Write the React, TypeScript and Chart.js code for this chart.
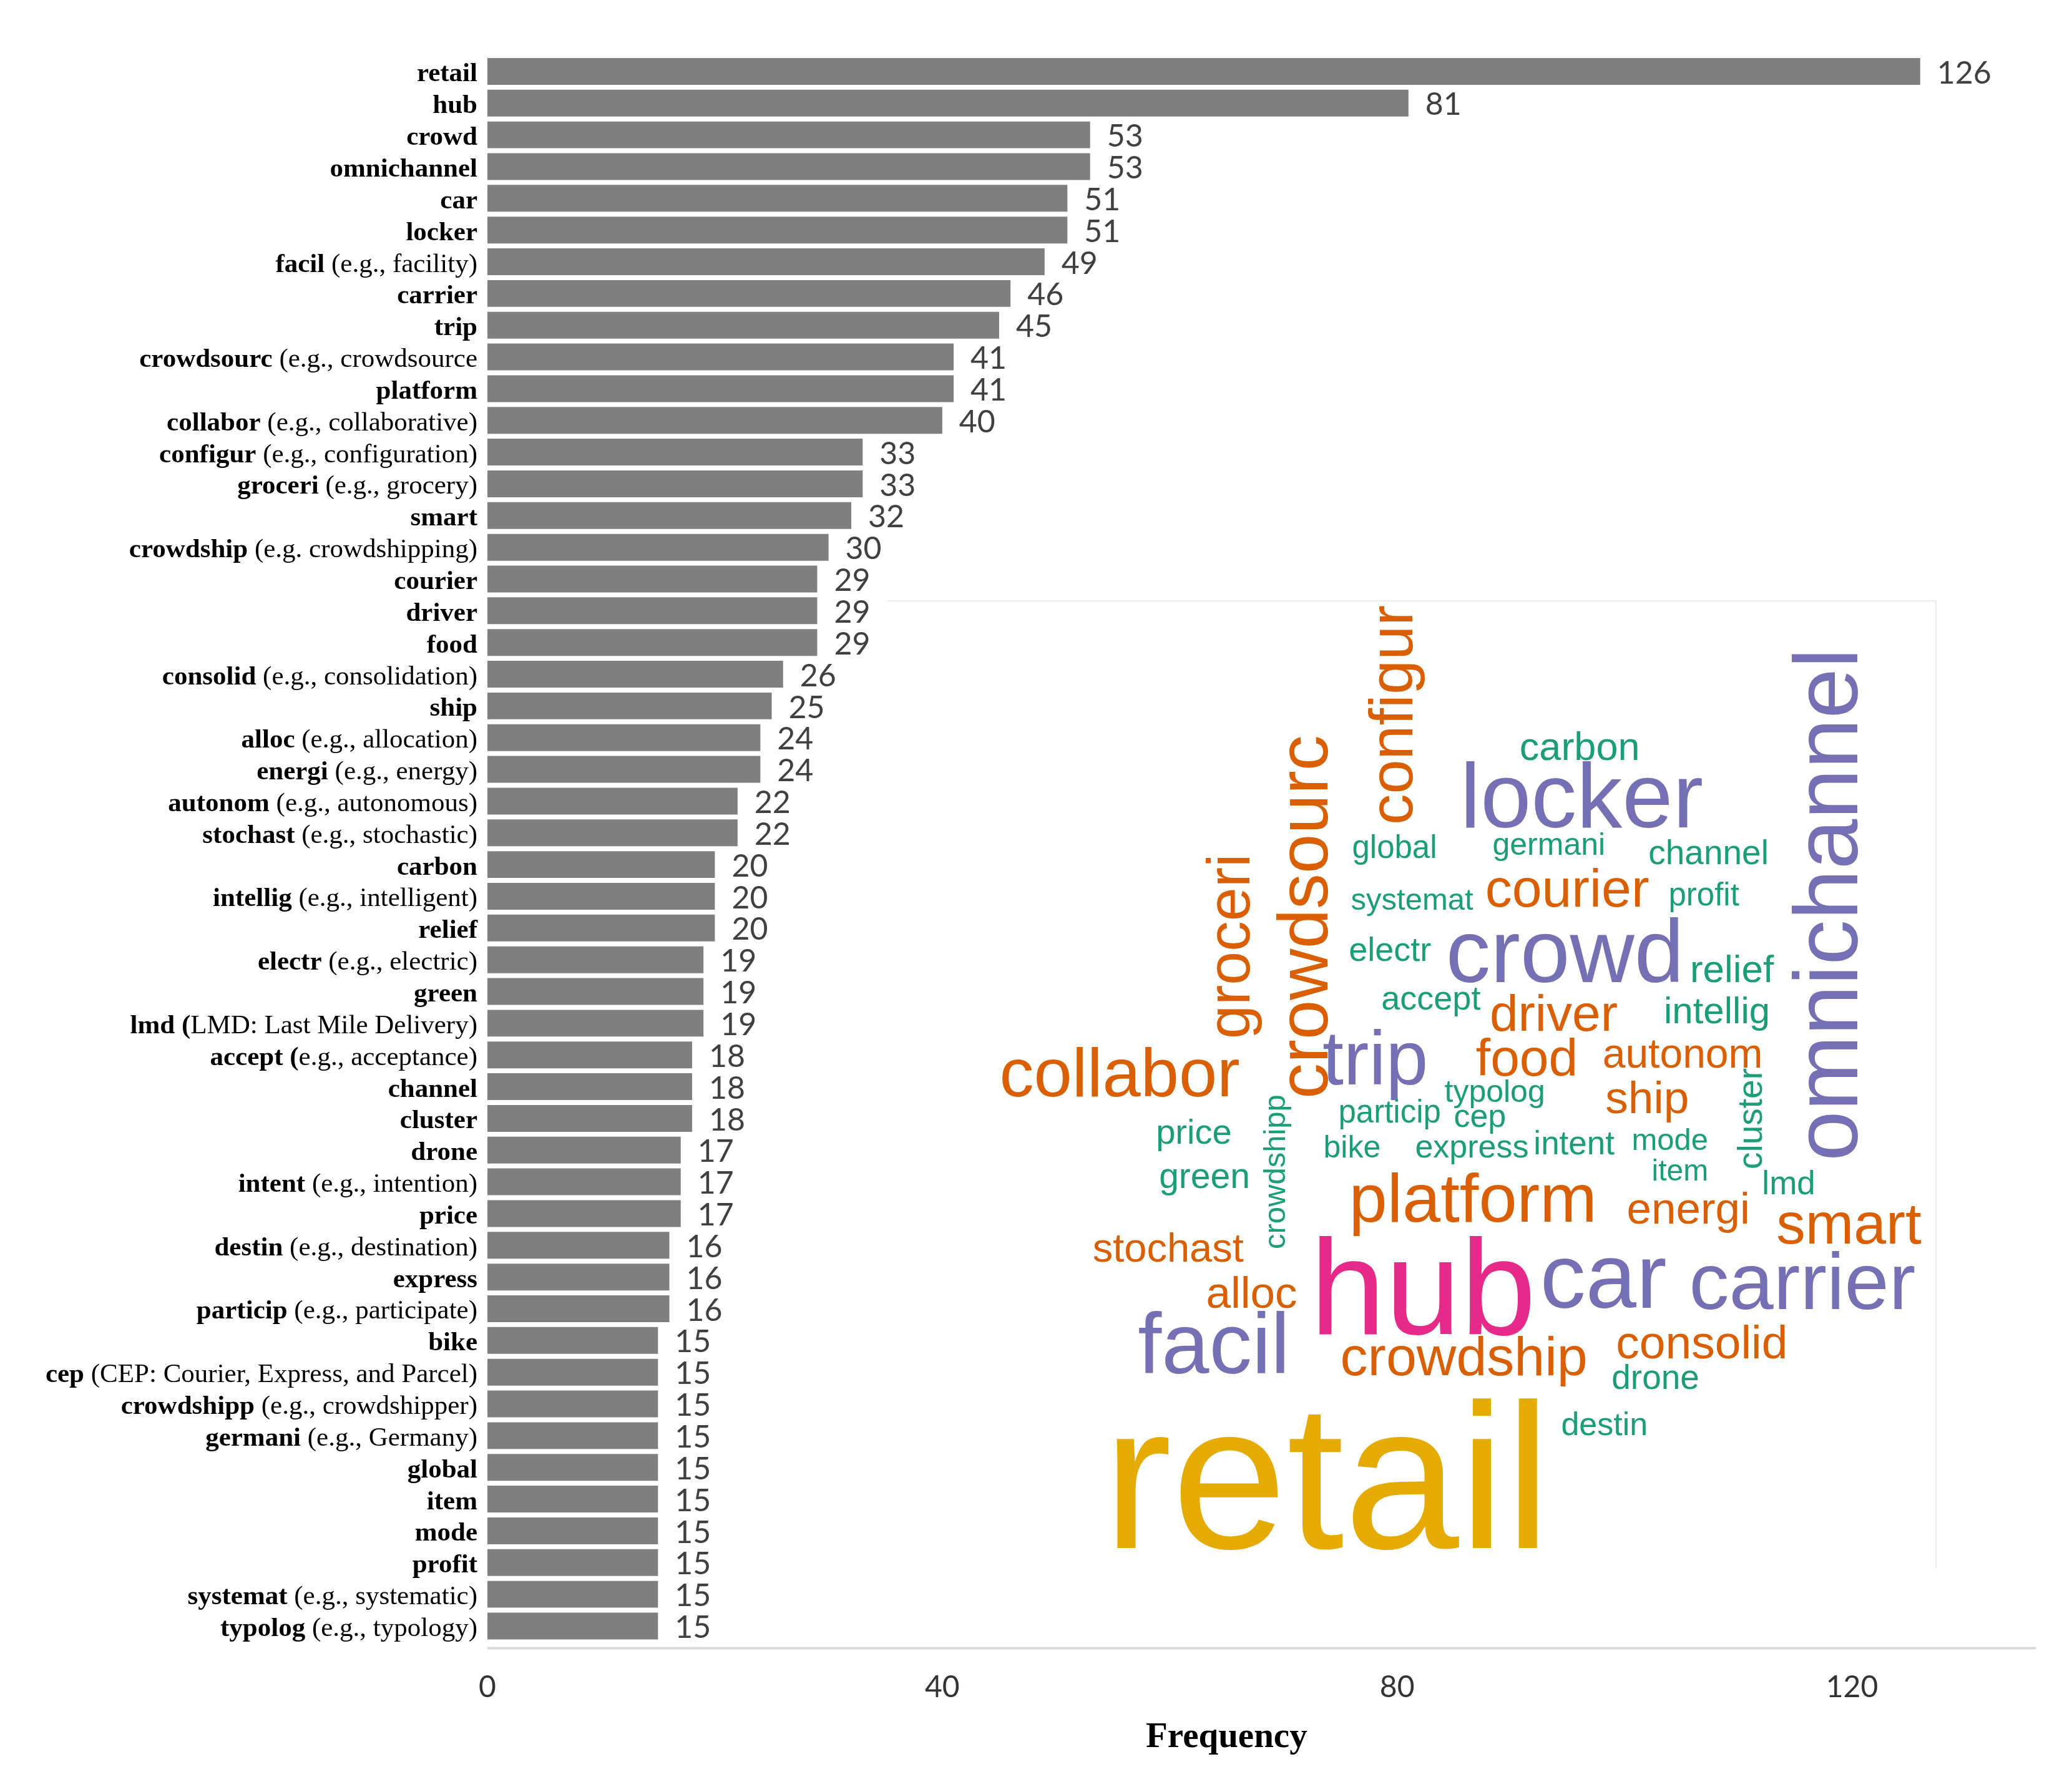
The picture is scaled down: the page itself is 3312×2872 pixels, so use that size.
import React, { useEffect, useRef } from 'react';
import { Chart, registerables } from 'chart.js';

Chart.register(...registerables);

// ---- data ----
const boldTerms = [
  'retail', 'hub', 'crowd', 'omnichannel', 'car', 'locker', 'facil', 'carrier', 'trip', 'crowdsourc',
  'platform', 'collabor', 'configur', 'groceri', 'smart', 'crowdship', 'courier', 'driver', 'food', 'consolid',
  'ship', 'alloc', 'energi', 'autonom', 'stochast', 'carbon', 'intellig', 'relief', 'electr', 'green',
  'lmd (', 'accept (', 'channel', 'cluster', 'drone', 'intent', 'price', 'destin', 'express', 'particip',
  'bike', 'cep', 'crowdshipp', 'germani', 'global', 'item', 'mode', 'profit', 'systemat', 'typolog',
];
const glossTerms = [
  '', '', '', '', '', '', ' (e.g., facility)', '', '', ' (e.g., crowdsource',
  '', ' (e.g., collaborative)', ' (e.g., configuration)', ' (e.g., grocery)', '', ' (e.g. crowdshipping)', '', '', '', ' (e.g., consolidation)',
  '', ' (e.g., allocation)', ' (e.g., energy)', ' (e.g., autonomous)', ' (e.g., stochastic)', '', ' (e.g., intelligent)', '', ' (e.g., electric)', '',
  'LMD: Last Mile Delivery)', 'e.g., acceptance)', '', '', '', ' (e.g., intention)', '', ' (e.g., destination)', '', ' (e.g., participate)',
  '', ' (CEP: Courier, Express, and Parcel)', ' (e.g., crowdshipper)', ' (e.g., Germany)', '', '', '', '', ' (e.g., systematic)', ' (e.g., typology)',
];
const frequencies = [
  126, 81, 53, 53, 51, 51, 49, 46, 45, 41,
  41, 40, 33, 33, 32, 30, 29, 29, 29, 26,
  25, 24, 24, 22, 22, 20, 20, 20, 19, 19,
  19, 18, 18, 18, 17, 17, 17, 16, 16, 16,
  15, 15, 15, 15, 15, 15, 15, 15, 15, 15,
];
const xTickValues = [0, 40, 80, 120];
const xAxisTitle = 'Frequency';

// word cloud words (stem text) in the cloud
const cloudStems = [
  'retail', 'hub', 'car', 'carrier', 'facil', 'crowd', 'locker', 'trip', 'collabor', 'platform',
  'crowdship', 'courier', 'driver', 'food', 'smart', 'consolid', 'ship', 'alloc', 'energi', 'autonom',
  'stochast', 'carbon', 'relief', 'intellig', 'electr', 'accept', 'green', 'price', 'channel', 'drone',
  'global', 'systemat', 'germani', 'profit', 'particip', 'bike', 'typolog', 'cep', 'express', 'intent',
  'mode', 'item', 'lmd', 'destin',
  'configur', 'crowdsourc', 'groceri', 'omnichannel', 'crowdshipp', 'cluster',
];

// ---- layout of the cloud picture (positions/sizes, px) ----
// [x, y, fontSize, vertical]
const cloudLayout: [number, number, number, boolean][] = [
  [1784, 2481, 331, false], [2110, 2138, 217, false], [2475, 2096, 146, false], [2713, 2098, 128, false],
  [1830, 2201, 137, false], [2324, 1574, 143, false], [2347, 1326, 146, false], [2125, 1738, 122, false],
  [1607, 1757, 110, false], [2167, 1958, 110, false], [2152, 2204, 88, false], [2384, 1453, 86, false],
  [2391, 1652, 82, false], [2369, 1724, 84, false], [2851, 1993, 93, false], [2593, 2177, 75, false],
  [2576, 1784, 73, false], [1936, 2096, 71, false], [2610, 1961, 71, false], [2571, 1711, 66, false],
  [1754, 2022, 65, false], [2438, 1218, 63, false], [2711, 1574, 62, false], [2669, 1640, 60, false],
  [2164, 1540, 54, false], [2216, 1618, 54, false], [1860, 1904, 57, false], [1855, 1833, 56, false],
  [2644, 1385, 55, false], [2585, 2226, 55, false], [2169, 1375, 51, false], [2167, 1458, 49, false],
  [2394, 1370, 50, false], [2676, 1451, 51, false], [2147, 1799, 51, false], [2123, 1855, 50, false],
  [2317, 1766, 50, false], [2332, 1806, 52, false], [2270, 1855, 52, false], [2460, 1850, 53, false],
  [2617, 1843, 49, false], [2649, 1892, 48, false], [2826, 1914, 53, false], [2504, 2300, 52, false],
  [2263, 1322, 99, true], [2127, 1761, 114, true], [2002, 1665, 97, true], [2976, 1861, 145, true],
  [2059, 2002, 49, true], [2823, 1874, 55, true],
];

const PALETTE = { gold: '#E6AB02', pink: '#E7298A', purple: '#7570B3', orange: '#D95F02', green: '#1B9E77' };
function cloudColor(freq: number) {
  if (freq >= 100) return PALETTE.gold;
  if (freq >= 60) return PALETTE.pink;
  if (freq >= 45) return PALETTE.purple;
  if (freq >= 21) return PALETTE.orange;
  return PALETTE.green;
}

const SERIF = '"Liberation Serif", "Times New Roman", serif';
const SANS = '"Liberation Sans", Arial, sans-serif';

const overlayPlugin = {
  id: 'overlay',
  afterDatasetsDraw(chart: any) {
    const ctx: CanvasRenderingContext2D = chart.ctx;
    const area = chart.chartArea;
    const yScale = chart.scales.y;
    const xScale = chart.scales.x;
    const meta = chart.getDatasetMeta(0);
    ctx.save();

    // category labels: bold stem + regular gloss
    const right = area.left - 16;
    boldTerms.forEach((b, i) => {
      const py = yScale.getPixelForValue(i) + 16;
      ctx.textBaseline = 'alphabetic';
      ctx.textAlign = 'right';
      ctx.fillStyle = '#000000';
      let x = right;
      const g = glossTerms[i];
      if (g) {
        ctx.font = `43px ${SERIF}`;
        ctx.fillText(g, x, py);
        x -= ctx.measureText(g).width;
      }
      ctx.font = `bold 43px ${SERIF}`;
      ctx.fillText(b, x, py);
    });

    // value labels
    ctx.font = '50px Lato';
    ctx.fillStyle = '#404040';
    ctx.textAlign = 'left';
    ctx.textBaseline = 'middle';
    meta.data.forEach((bar: any, i: number) => {
      ctx.fillText(String(frequencies[i]), bar.x + 27, bar.y + 3);
    });

    // axis line
    ctx.strokeStyle = '#d9d9d9';
    ctx.lineWidth = 4;
    ctx.beginPath();
    ctx.moveTo(area.left, area.bottom + 10);
    ctx.lineTo(area.right + 3, area.bottom + 10);
    ctx.stroke();

    // axis title
    ctx.font = `bold 57px ${SERIF}`;
    ctx.fillStyle = '#000000';
    ctx.textAlign = 'center';
    ctx.textBaseline = 'alphabetic';
    ctx.fillText(xAxisTitle, xScale.getPixelForValue(65), 2800);

    // word cloud picture frame
    ctx.strokeStyle = '#ececec';
    ctx.lineWidth = 2;
    ctx.beginPath();
    ctx.moveTo(1422, 963);
    ctx.lineTo(3102, 963);
    ctx.lineTo(3102, 2513);
    ctx.stroke();

    // word cloud
    ctx.textAlign = 'left';
    ctx.textBaseline = 'alphabetic';
    cloudStems.forEach((w, i) => {
      const [x, y, size, vertical] = cloudLayout[i];
      const idx = boldTerms.findIndex((t) => t.replace(' (', '') === w);
      ctx.fillStyle = cloudColor(frequencies[idx]);
      ctx.font = `${size}px ${SANS}`;
      if (vertical) {
        ctx.save();
        ctx.translate(x, y);
        ctx.rotate(-Math.PI / 2);
        ctx.fillText(w, 0, 0);
        ctx.restore();
      } else {
        ctx.fillText(w, x - size * 0.05, y);
      }
    });

    ctx.restore();
  },
};

export default function App() {
  const ref = useRef<HTMLCanvasElement | null>(null);
  useEffect(() => {
    document.body.style.margin = '0';
    const canvas = ref.current;
    if (!canvas) return;
    const chart = new Chart(canvas, {
      type: 'bar',
      data: {
        labels: boldTerms.map((b, i) => b + glossTerms[i]),
        datasets: [
          {
            data: frequencies,
            backgroundColor: '#7f7f7f',
            borderWidth: 0,
            barPercentage: 0.845,
            categoryPercentage: 1,
          },
        ],
      },
      options: {
        indexAxis: 'y',
        responsive: false,
        animation: false,
        devicePixelRatio: 1,
        layout: { padding: { left: 781, right: 53, top: 89, bottom: 95 } },
        plugins: { legend: { display: false }, tooltip: { enabled: false }, title: { display: false } },
        scales: {
          y: { display: false },
          x: {
            type: 'linear',
            min: 0,
            max: 136,
            grid: { display: false, drawTicks: false },
            border: { display: false },
            afterBuildTicks: (scale: any) => {
              scale.ticks = xTickValues.map((v) => ({ value: v }));
            },
            ticks: {
              padding: 44,
              color: '#333333',
              font: { family: 'Lato', size: 48 },
            },
          },
        },
      },
      plugins: [overlayPlugin],
    });
    return () => chart.destroy();
  }, []);
  return (
    <div style={{ width: 3312, height: 2872 }}>
      <canvas ref={ref} width={3312} height={2872} style={{ display: 'block', width: 3312, height: 2872 }} />
    </div>
  );
}
